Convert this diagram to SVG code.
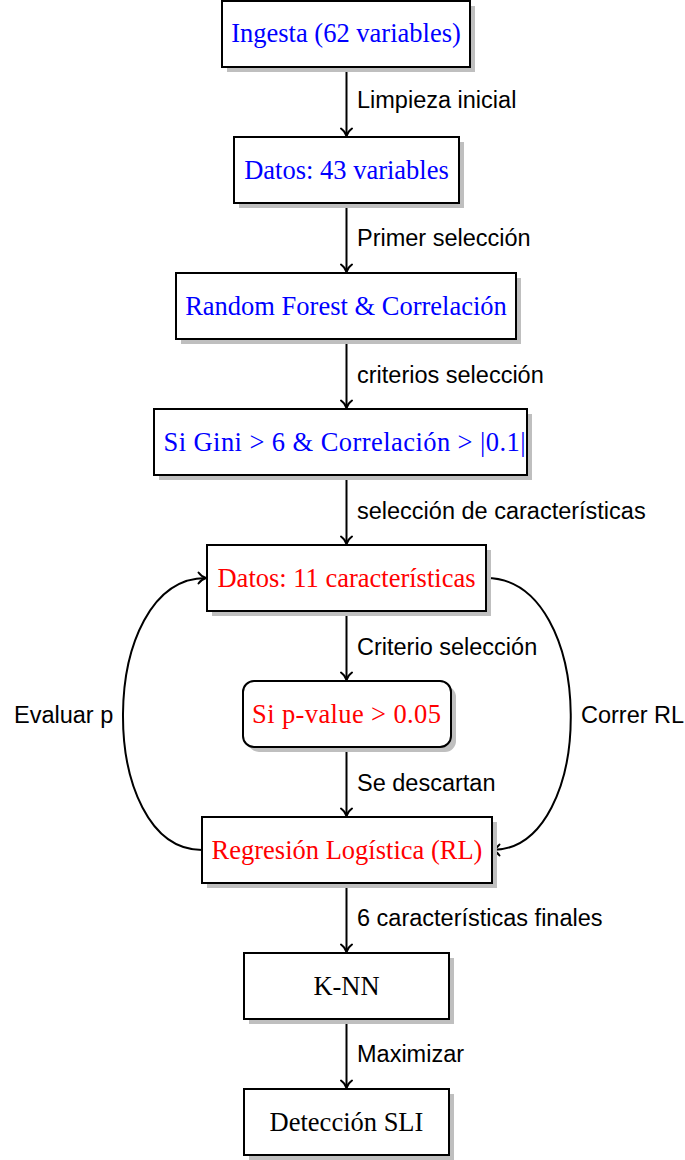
<svg xmlns="http://www.w3.org/2000/svg" width="685" height="1160" viewBox="0 0 685 1160">
<style>
.box{fill:#fff;stroke:#000;stroke-width:2}
.sh{fill:#bfbfbf;stroke:none}
.t{font-family:"Liberation Serif","Times New Roman",serif;font-size:26.5px;text-anchor:middle}
.blue{fill:#0000ff}
.red{fill:#ff0000}
.blk{fill:#000}
.lbl{font-family:"Liberation Sans",Arial,sans-serif;font-size:23.5px;fill:#000}
.edge{fill:none;stroke:#000;stroke-width:2;marker-end:url(#arr)}
</style>
<defs>
<marker id="arr" markerUnits="userSpaceOnUse" markerWidth="20" markerHeight="20" viewBox="-10 -10 20 20" refX="0" refY="0" orient="auto" overflow="visible">
<path d="M -7.5,-5.5 C -5,-2 -2,-0.6 0,0 C -2,0.6 -5,2 -7.5,5.5" fill="none" stroke="#000" stroke-width="2" stroke-linecap="round"/>
</marker>
</defs>
<rect width="685" height="1160" fill="#fff"/>
<g id="connectors">
<path class="edge" d="M 346.5,67 L 346.5,136"/>
<path class="edge" d="M 346.5,203 L 346.5,272"/>
<path class="edge" d="M 346.5,339 L 346.5,408"/>
<path class="edge" d="M 346.5,475 L 346.5,544"/>
<path class="edge" d="M 346.5,611 L 346.5,680"/>
<path class="edge" d="M 346.5,747 L 346.5,816"/>
<path class="edge" d="M 346.5,883 L 346.5,952"/>
<path class="edge" d="M 346.5,1019 L 346.5,1088"/>
<path class="edge" d="M 202,850 C 96,850 96,578 206,578"/>
<path class="edge" d="M 486,578 C 598,578 598,850 492,850"/>
<text class="lbl" x="357" y="108">Limpieza inicial</text>
<text class="lbl" x="357" y="246">Primer selección</text>
<text class="lbl" x="357" y="383">criterios selección</text>
<text class="lbl" x="357" y="519">selección de características</text>
<text class="lbl" x="357" y="655">Criterio selección</text>
<text class="lbl" x="357" y="791">Se descartan</text>
<text class="lbl" x="357" y="926">6 características finales</text>
<text class="lbl" x="357" y="1062">Maximizar</text>
<text class="lbl" x="14" y="723">Evaluar p</text>
<text class="lbl" x="581" y="723">Correr RL</text>
</g>
<g id="n1">
<rect class="sh" x="227" y="6" width="248" height="66"/>
<rect class="box" x="222" y="1" width="248" height="66"/>
<text class="t blue" x="346" y="42">Ingesta (62 variables)</text>
</g>
<g id="n2">
<rect class="sh" x="239" y="142" width="225" height="66"/>
<rect class="box" x="234" y="137" width="225" height="66"/>
<text class="t blue" x="346.5" y="179">Datos: 43 variables</text>
</g>
<g id="n3">
<rect class="sh" x="181" y="278" width="340" height="66"/>
<rect class="box" x="176" y="273" width="340" height="66"/>
<text class="t blue" x="346" y="315">Random Forest &amp; Correlación</text>
</g>
<g id="n4">
<rect class="sh" x="159" y="414" width="373" height="66"/>
<rect class="box" x="154" y="409" width="373" height="66"/>
<text class="t blue" x="344.5" y="451" textLength="362" lengthAdjust="spacing">Si Gini &gt; 6 &amp; Correlación &gt; |0.1|</text>
</g>
<g id="n5">
<rect class="sh" x="212" y="550" width="279" height="66"/>
<rect class="box" x="207" y="545" width="279" height="66"/>
<text class="t red" x="346.5" y="587">Datos: 11 características</text>
</g>
<g id="n6">
<rect class="sh" x="248" y="686" width="208" height="66" rx="11"/>
<rect class="box" x="243" y="681" width="208" height="66" rx="11"/>
<text class="t red" x="346.5" y="723" textLength="189" lengthAdjust="spacing">Si p-value &gt; 0.05</text>
</g>
<g id="n7">
<rect class="sh" x="207" y="822" width="290" height="66"/>
<rect class="box" x="202" y="817" width="290" height="66"/>
<text class="t red" x="347" y="859">Regresión Logística (RL)</text>
</g>
<g id="n8">
<rect class="sh" x="249" y="958" width="205" height="66"/>
<rect class="box" x="244" y="953" width="205" height="66"/>
<text class="t blk" x="346.5" y="995">K-NN</text>
</g>
<g id="n9">
<rect class="sh" x="249" y="1094" width="205" height="66"/>
<rect class="box" x="244" y="1089" width="205" height="66"/>
<text class="t blk" x="346.5" y="1131">Detección SLI</text>
</g>
</svg>
